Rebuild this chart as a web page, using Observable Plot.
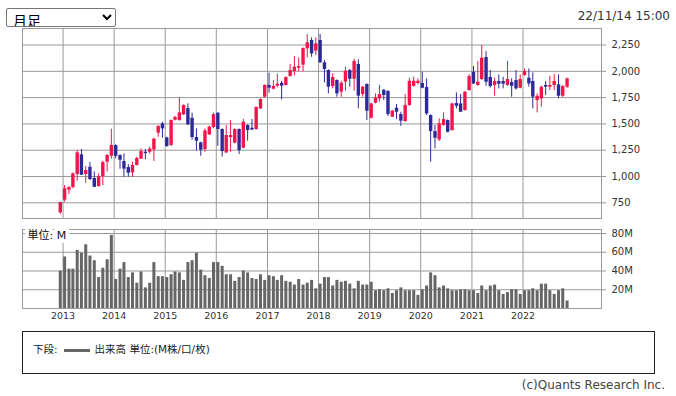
<!DOCTYPE html>
<html><head><meta charset="utf-8">
<script src="https://cdn.jsdelivr.net/npm/d3@7"></script>
<script src="https://cdn.jsdelivr.net/npm/@observablehq/plot@0.6"></script>
<style>
html,body{margin:0;padding:0;background:#fff;}
#wrap{position:relative;width:676px;height:396px;overflow:hidden;font-family:"DejaVu Sans","Noto Sans CJK JP",sans-serif;color:#333;}
#main{position:absolute;left:0;top:0;}
#vol{position:absolute;left:0;top:220px;}
#sel{position:absolute;left:6px;top:8px;width:110px;height:19px;box-sizing:border-box;font-size:14px;font-family:"Noto Sans CJK JP",sans-serif;border:1px solid #767676;border-radius:2px;background:#fff;color:#000;padding:0 0 0 2px;}
#stamp{position:absolute;right:6px;top:8px;font-size:12px;line-height:16px;color:#333;}
#legend{position:absolute;left:22px;top:331px;width:633px;height:43px;box-sizing:border-box;border:1px solid #222;padding:10px 0 0 10px;font-size:10.5px;line-height:14px;color:#222;font-family:"DejaVu Sans","Noto Sans CJK JP",sans-serif;}
#legend .sw{display:inline-block;width:26px;height:3px;background:#666;vertical-align:middle;margin:0 5px 0 6px;}
#copy{position:absolute;right:11px;top:378px;font-size:12px;line-height:15px;color:#444;}
</style></head>
<body><div id="wrap"></div>
<script>
// ---- data (monthly candles, Dec 2012 - Nov 2022) ----
const months = ["2012-12",
"2013-01","2013-02","2013-03","2013-04","2013-05","2013-06","2013-07","2013-08","2013-09","2013-10","2013-11","2013-12",
"2014-01","2014-02","2014-03","2014-04","2014-05","2014-06","2014-07","2014-08","2014-09","2014-10","2014-11","2014-12",
"2015-01","2015-02","2015-03","2015-04","2015-05","2015-06","2015-07","2015-08","2015-09","2015-10","2015-11","2015-12",
"2016-01","2016-02","2016-03","2016-04","2016-05","2016-06","2016-07","2016-08","2016-09","2016-10","2016-11","2016-12",
"2017-01","2017-02","2017-03","2017-04","2017-05","2017-06","2017-07","2017-08","2017-09","2017-10","2017-11","2017-12",
"2018-01","2018-02","2018-03","2018-04","2018-05","2018-06","2018-07","2018-08","2018-09","2018-10","2018-11","2018-12",
"2019-01","2019-02","2019-03","2019-04","2019-05","2019-06","2019-07","2019-08","2019-09","2019-10","2019-11","2019-12",
"2020-01","2020-02","2020-03","2020-04","2020-05","2020-06","2020-07","2020-08","2020-09","2020-10","2020-11","2020-12",
"2021-01","2021-02","2021-03","2021-04","2021-05","2021-06","2021-07","2021-08","2021-09","2021-10","2021-11","2021-12",
"2022-01","2022-02","2022-03","2022-04","2022-05","2022-06","2022-07","2022-08","2022-09","2022-10","2022-11"];
const opens = [655,
775,870,895,1019,1206,1019,1088,981,905,1000,1136,1193,
1295,1200,1143,1085,1035,1105,1165,1231,1231,1253,1412,1500,
1367,1294,1535,1532,1586,1646,1554,1371,1320,1256,1396,1466,
1602,1447,1225,1371,1317,1447,1269,1485,1459,1447,1643,1754,
1865,1830,1859,1887,1865,1951,1998,2030,2058,2214,2293,2192,
2293,2081,2008,1856,1913,1802,1897,2008,1925,2065,1780,1875,
1554,1697,1738,1820,1808,1564,1649,1589,1523,1675,1858,1884,
1884,1846,1580,1427,1348,1485,1532,1437,1694,1690,1627,1817,
1991,1865,1922,2131,1941,1865,1903,1903,1865,1893,1912,1839,
1960,1934,1903,1722,1738,1865,1849,1865,1871,1763,1849];
const highs = [755,
914,905,1035,1247,1257,1095,1133,1044,1025,1145,1209,1450,
1301,1206,1215,1114,1136,1184,1263,1257,1279,1364,1485,1515,
1374,1538,1573,1748,1681,1691,1602,1453,1326,1453,1478,1602,
1605,1453,1485,1532,1453,1453,1542,1491,1542,1662,1738,1871,
1982,1913,1973,1906,1947,2065,2141,2128,2223,2350,2318,2318,
2350,2103,2014,1976,1919,1906,2039,2017,2115,2109,1856,1881,
1697,1786,1865,1827,1817,1627,1684,1611,1779,1935,1944,1928,
1992,1928,1586,1485,1548,1605,1538,1697,1795,1779,1808,1969,
2045,2093,2245,2188,2007,1934,1966,1944,2093,1928,2007,1966,
2023,2023,1985,1785,1858,1903,1953,1969,1966,1865,1937];
const lows = [640,
756,829,883,955,1010,936,962,895,898,914,1044,1165,
1168,1070,994,994,994,1101,1162,1158,1212,1143,1374,1364,
1279,1288,1529,1526,1580,1485,1345,1244,1193,1231,1390,1453,
1288,1184,1218,1231,1310,1209,1263,1336,1437,1440,1637,1748,
1792,1824,1843,1729,1862,1944,1957,1995,1995,2128,2134,2150,
2077,1890,1786,1833,1754,1754,1811,1849,1811,1643,1754,1532,
1548,1690,1706,1722,1570,1561,1542,1478,1516,1668,1849,1871,
1833,1580,1136,1263,1332,1478,1415,1431,1643,1611,1621,1811,
1874,1858,1912,1858,1842,1763,1833,1833,1858,1754,1823,1833,
1953,1849,1643,1605,1659,1770,1817,1817,1738,1751,1839];
const closes = [753,
883,895,1025,1225,1012,1057,971,898,1000,1133,1200,1295,
1193,1155,1070,1032,1105,1171,1237,1218,1260,1355,1475,1453,
1285,1532,1561,1605,1675,1491,1371,1336,1250,1434,1469,1589,
1447,1237,1390,1390,1447,1247,1516,1437,1443,1656,1732,1865,
1840,1856,1878,1859,1941,2008,2039,2046,2217,2271,2166,2261,
2081,2017,1849,1941,1786,1887,2001,1925,2093,1764,1849,1621,
1690,1748,1779,1770,1589,1621,1611,1526,1675,1906,1906,1906,
1839,1595,1427,1364,1500,1542,1421,1690,1668,1611,1801,1950,
1880,1896,2125,1896,1855,1903,1877,1877,1922,1858,1833,1922,
1998,1880,1754,1763,1849,1849,1865,1903,1763,1855,1928];
// volume in millions of shares
const volumes = [40,
55,42,42,62,59,68,56,51,33,43,52,78,
31,42,49,33,38,27,39,22,27,49,34,34,
33,36,39,38,30,49,51,59,41,35,32,49,
49,45,36,36,29,33,40,38,32,31,36,30,
35,34,30,35,29,28,25,31,25,27,30,21,
26,33,33,24,30,28,29,26,21,29,25,25,
28,19,20,19,21,16,19,22,19,19,19,14,
20,24,38,35,22,24,21,19,19,20,20,19,
19,16,24,19,24,25,19,15,17,20,20,15,
19,19,21,19,26,26,19,15,19,21,8];
const years = [2013,2014,2015,2016,2017,2018,2019,2020,2021,2022];
const priceTicks = [750,1000,1250,1500,1750,2000,2250];
const volTicks = [20,40,60,80];

// ---- build ----
const RED = "#f0164b", BLUE = "#2c2a9b", GRID = "#999", VOLC = "#666";
const parse = d3.utcParse("%Y-%m");
const rows = months.map((m, i) => ({
  date: d3.utcDay.offset(parse(m), 11),
  open: opens[i], high: highs[i], low: lows[i], close: closes[i], vol: volumes[i]
}));
const up = rows.filter(d => d.close >= d.open);
const down = rows.filter(d => d.close < d.open);
const yearTicks = years.map(y => new Date(Date.UTC(y, 0, 1)));
const xDomain = [new Date(Date.UTC(2012, 2, 17)), new Date(Date.UTC(2023, 6, 16))];

const main = Plot.plot({
  width: 676, height: 220,
  marginLeft: 22, marginRight: 75, marginTop: 28, marginBottom: 2,
  x: {type: "utc", domain: xDomain, axis: null},
  y: {domain: [601, 2407]},
  style: {background: "none", fontFamily: "DejaVu Sans, sans-serif", fontSize: "10px", color: "#333", overflow: "visible"},
  marks: [
    Plot.gridX(yearTicks, {stroke: GRID, strokeOpacity: 1}),
    Plot.gridY(priceTicks, {stroke: GRID, strokeOpacity: 1}),
    Plot.axisY(priceTicks, {anchor: "right", tickSize: 4, tickPadding: 6, stroke: GRID, fill: "#333", tickFormat: d3.format(","), label: null}),
    Plot.frame({stroke: GRID}),
    Plot.ruleX(up, {x: "date", y1: "low", y2: "high", stroke: RED, strokeWidth: 1}),
    Plot.ruleX(down, {x: "date", y1: "low", y2: "high", stroke: BLUE, strokeWidth: 1}),
    Plot.ruleX(up, {x: "date", y1: "open", y2: "close", stroke: RED, strokeWidth: 3.4}),
    Plot.ruleX(down, {x: "date", y1: "open", y2: "close", stroke: BLUE, strokeWidth: 3.4})
  ]
});
main.id = "main";

const vol = Plot.plot({
  width: 676, height: 105,
  marginLeft: 22, marginRight: 75, marginTop: 9, marginBottom: 17,
  x: {type: "utc", domain: xDomain},
  y: {domain: [0, 84.3]},
  style: {background: "none", fontFamily: "DejaVu Sans, sans-serif", fontSize: "10px", color: "#333", overflow: "visible"},
  marks: [
    Plot.gridX(yearTicks, {stroke: GRID, strokeOpacity: 1}),
    Plot.gridY(volTicks, {stroke: GRID, strokeOpacity: 1}),
    Plot.axisY(volTicks, {anchor: "right", tickSize: 4, tickPadding: 6, stroke: GRID, fill: "#333", tickFormat: d => d + "M", label: null}),
    Plot.axisX(yearTicks, {anchor: "bottom", tickSize: 0, tickPadding: 4, fill: "#333", fontSize: 9.5, tickFormat: d3.utcFormat("%Y"), label: null}),
    Plot.ruleX(rows, {x: "date", y1: 0, y2: "vol", stroke: VOLC, strokeWidth: 3}),
    Plot.frame({stroke: GRID}),
    Plot.text(["単位: M"], {frameAnchor: "top-left", dx: 5, dy: 2, lineAnchor: "top", textAnchor: "start",
      fill: "#111", stroke: "white", strokeWidth: 8, fontSize: 11, fontFamily: "DejaVu Sans, Noto Sans CJK JP, sans-serif"})
  ]
});
vol.id = "vol";

const wrap = document.getElementById("wrap");
wrap.appendChild(main);
wrap.appendChild(vol);
wrap.insertAdjacentHTML("beforeend",
  '<select id="sel"><option>月足</option></select>' +
  '<div id="stamp">22/11/14 15:00</div>' +
  '<div id="legend">下段:<span class="sw"></span>出来高 単位:(M株/口/枚)</div>' +
  '<div id="copy">(c)Quants Research Inc.</div>');
</script>
</body></html>
